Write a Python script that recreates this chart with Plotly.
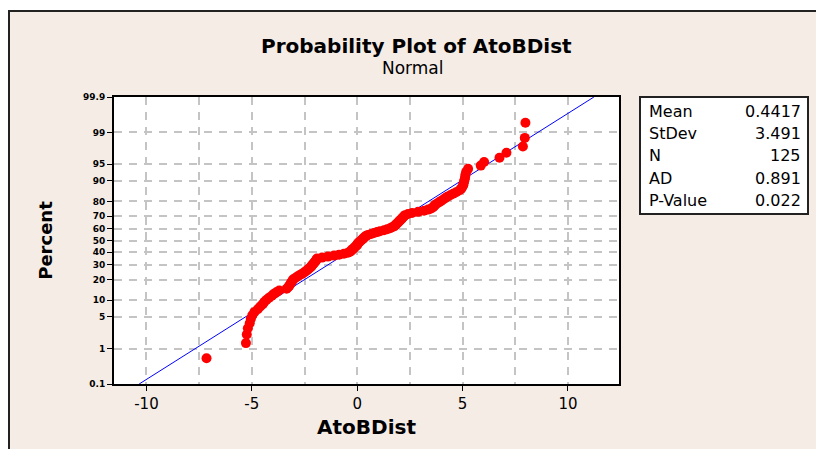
import plotly.graph_objects as go
from statistics import NormalDist

# ---------------- data ----------------
atob_dist = [
    -7.15, -5.28, -5.24, -5.19, -5.10, -5.05, -4.98, -4.88, -4.72, -4.60,
    -4.48, -4.40, -4.30, -4.18, -4.05, -3.95, -3.82, -3.70, -3.35, -3.28,
    -3.22, -3.18, -3.14, -3.10, -3.06, -3.00, -2.90, -2.82, -2.72, -2.62,
    -2.52, -2.45, -2.38, -2.32, -2.26, -2.20, -2.16, -2.12, -2.08, -2.04,
    -2.00, -1.96, -1.93, -1.91, -1.67, -1.39, -1.10, -0.86, -0.63, -0.44,
    -0.34, -0.29, -0.25, -0.20, -0.15, -0.11, -0.06, -0.01, 0.01, 0.03,
    0.08, 0.13, 0.18, 0.23, 0.28, 0.32, 0.37, 0.42, 0.51, 0.66,
    0.80, 0.94, 1.08, 1.27, 1.42, 1.56, 1.65, 1.75, 1.80, 1.84,
    1.89, 1.94, 1.98, 2.03, 2.08, 2.13, 2.17, 2.22, 2.27, 2.41,
    2.60, 2.89, 3.17, 3.36, 3.51, 3.60, 3.65, 3.70, 3.79, 3.89,
    3.98, 4.08, 4.17, 4.27, 4.41, 4.55, 4.69, 4.84, 4.93, 4.98,
    5.03, 5.05, 5.07, 5.10, 5.12, 5.14, 5.17, 5.26, 5.86, 6.02,
    6.75, 7.08, 7.86, 7.95, 7.98,
]
fit_mean = 0.4417
fit_stdev = 3.491
stat_labels = ["Mean", "StDev", "N", "AD", "P-Value"]
stat_values = ["0.4417", "3.491", "125", "0.891", "0.022"]
percent_ticks = [0.1, 1, 5, 10, 20, 30, 40, 50, 60, 70, 80, 90, 95, 99, 99.9]
x_ticks = [-10, -5, 0, 5, 10]

nd = NormalDist()
n = len(atob_dist)
xs = sorted(atob_dist)
zs = [nd.inv_cdf((i - 0.3) / (n + 0.4)) for i in range(1, n + 1)]
z_lo, z_hi = nd.inv_cdf(0.001), nd.inv_cdf(0.999)

# ---------------- layout geometry ----------------
W, H = 816, 449
L, R, T, B = 114, 619, 97, 384


def px(x):
    return (x - L) / (R - L)


def py(y):
    return (B - y) / (B - T)


FONT = "DejaVu Sans"
fig = go.Figure()

fig.add_trace(go.Scatter(
    x=[fit_mean + fit_stdev * z_lo, fit_mean + fit_stdev * z_hi],
    y=[z_lo, z_hi], mode="lines",
    line=dict(color="#0000FF", width=1), hoverinfo="skip", showlegend=False))

fig.add_trace(go.Scatter(
    x=xs, y=zs, mode="markers",
    marker=dict(color="#FF0000", size=10, line=dict(width=0)),
    showlegend=False))

grid = "#C4C4C4"
gdash = "8px,7px"
fig.update_xaxes(
    range=[-11.54, 12.42], tickvals=x_ticks, ticktext=[str(v) for v in x_ticks],
    showgrid=True, gridcolor=grid, griddash=gdash, gridwidth=1.5,
    minor=dict(dtick=2.5, tick0=0, showgrid=True, gridcolor=grid,
               griddash=gdash, gridwidth=1.5, ticks=""),
    zeroline=False, showline=True, linecolor="black", linewidth=2, mirror=True,
    ticks="outside", ticklen=5, tickcolor="black", tickwidth=1,
    tickfont=dict(family=FONT, size=15, color="black"),
    title=dict(text="<b>AtoBDist</b>", font=dict(family=FONT, size=20, color="black"),
               standoff=8),
)
fig.update_yaxes(
    range=[z_lo, z_hi],
    tickvals=[nd.inv_cdf(p / 100) for p in percent_ticks],
    ticktext=["<b>%g</b>" % p for p in percent_ticks],
    showgrid=True, gridcolor=grid, griddash=gdash, gridwidth=1.5,
    zeroline=False, showline=True, linecolor="black", linewidth=2, mirror=True,
    ticks="outside", ticklen=5, tickcolor="black", tickwidth=1,
    tickfont=dict(family=FONT, size=9, color="black"),
    title=dict(text="<b>Percent</b>", font=dict(family=FONT, size=18, color="black"),
               standoff=26),
)

BEIGE = "#F5ECE6"
shapes = [
    # white area outside the outer frame
    dict(type="rect", xref="paper", yref="paper", x0=px(-5), x1=px(8), y0=py(460), y1=py(-5),
         fillcolor="white", line=dict(width=0), layer="above"),
    dict(type="rect", xref="paper", yref="paper", x0=px(-5), x1=px(830), y0=py(10), y1=py(-5),
         fillcolor="white", line=dict(width=0), layer="above"),
    # frame border (left and top edges visible)
    dict(type="line", xref="paper", yref="paper", x0=px(9), x1=px(9), y0=py(10), y1=py(460),
         line=dict(color="#222222", width=2), layer="above"),
    dict(type="line", xref="paper", yref="paper", x0=px(8), x1=px(830), y0=py(11), y1=py(11),
         line=dict(color="#222222", width=2), layer="above"),
    # stats box
    dict(type="rect", xref="paper", yref="paper", x0=px(640), x1=px(808), y0=py(214), y1=py(97),
         fillcolor="white", line=dict(color="#222222", width=2), layer="above"),
]

ann = [
    dict(text="<b>Probability Plot of AtoBDist</b>", x=px(416), y=py(46),
         font=dict(family=FONT, size=20, color="black")),
    dict(text="Normal", x=px(413), y=py(68), font=dict(family=FONT, size=17, color="black")),
]
row_y = [111, 133, 155, 178, 200]
for lab, val, yy in zip(stat_labels, stat_values, row_y):
    ann.append(dict(text=lab, x=px(647), y=py(yy), xanchor="left",
                    font=dict(family=FONT, size=16, color="black")))
    ann.append(dict(text=val, x=px(803), y=py(yy), xanchor="right",
                    font=dict(family=FONT, size=16, color="black")))
for a in ann:
    a.update(xref="paper", yref="paper", showarrow=False)
    a.setdefault("xanchor", "center")
    a.setdefault("yanchor", "middle")

fig.update_layout(
    width=W, height=H, autosize=False,
    margin=dict(l=L, r=W - R, t=T, b=H - B, pad=0),
    paper_bgcolor=BEIGE, plot_bgcolor="white",
    shapes=shapes, annotations=ann, showlegend=False,
)

fig.write_html("out.html")
